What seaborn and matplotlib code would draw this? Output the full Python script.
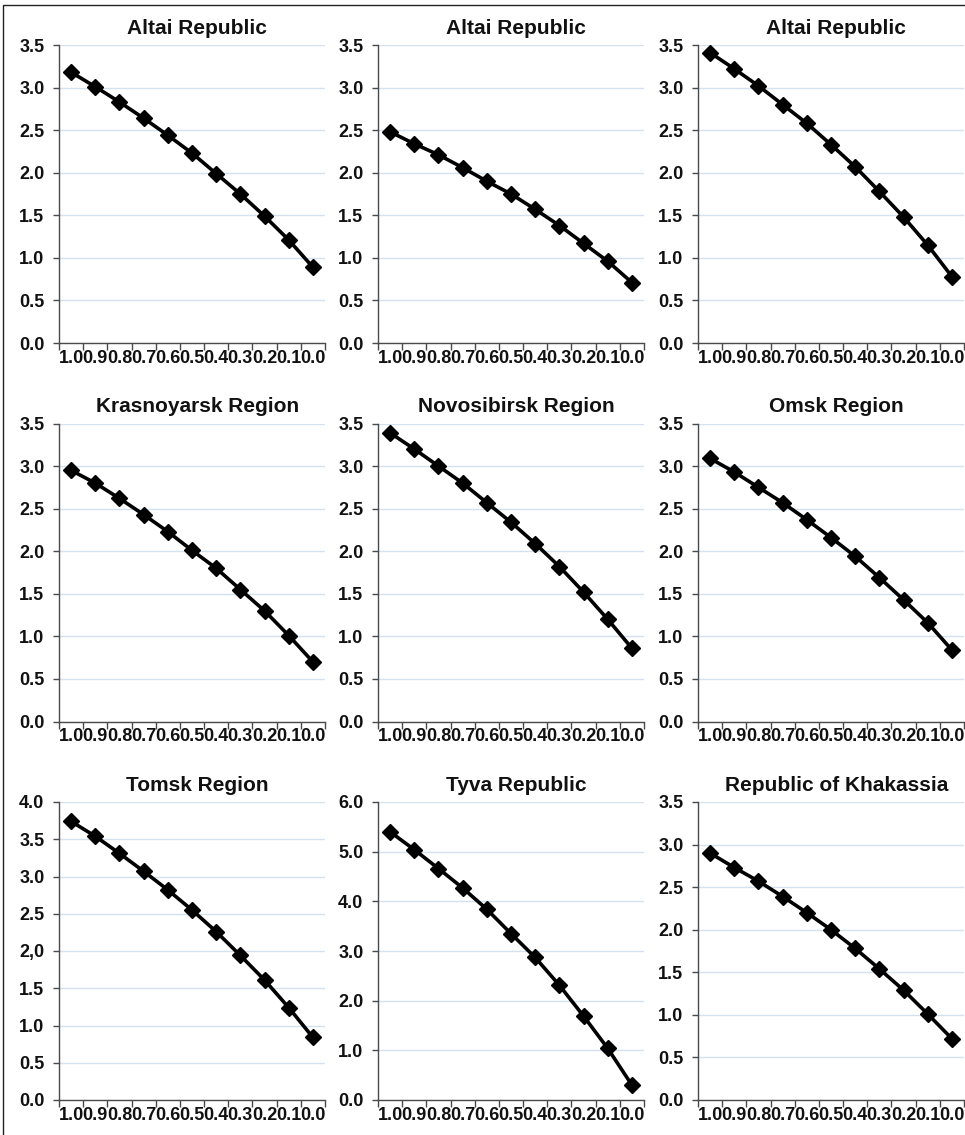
import matplotlib
matplotlib.use("Agg")
import matplotlib.pyplot as plt
from matplotlib.patches import Rectangle
from matplotlib.ticker import FixedLocator, NullFormatter
import numpy as np
import pandas as pd
import seaborn as sns

# Share of the parameter, shown from 1.0 down to 0.0
x_labels = ["1.0", "0.9", "0.8", "0.7", "0.6", "0.5", "0.4", "0.3", "0.2", "0.1", "0.0"]

titles = [
    "Altai Republic", "Altai Republic", "Altai Republic",
    "Krasnoyarsk Region", "Novosibirsk Region", "Omsk Region",
    "Tomsk Region", "Tyva Republic", "Republic of Khakassia",
]

altai_a = [3.18, 3.01, 2.83, 2.64, 2.44, 2.23, 1.99, 1.75, 1.49, 1.21, 0.89]
altai_b = [2.48, 2.34, 2.21, 2.06, 1.90, 1.75, 1.57, 1.38, 1.17, 0.96, 0.71]
altai_c = [3.41, 3.22, 3.02, 2.80, 2.58, 2.33, 2.07, 1.78, 1.48, 1.15, 0.78]
krasnoyarsk = [2.95, 2.80, 2.62, 2.43, 2.23, 2.01, 1.80, 1.55, 1.30, 1.01, 0.70]
novosibirsk = [3.39, 3.20, 3.00, 2.80, 2.57, 2.34, 2.09, 1.82, 1.52, 1.20, 0.86]
omsk = [3.09, 2.93, 2.75, 2.57, 2.37, 2.16, 1.94, 1.69, 1.43, 1.16, 0.84]
tomsk = [3.74, 3.54, 3.31, 3.07, 2.82, 2.55, 2.26, 1.94, 1.61, 1.24, 0.84]
tyva = [5.40, 5.04, 4.66, 4.27, 3.84, 3.35, 2.87, 2.31, 1.69, 1.04, 0.30]
khakassia = [2.90, 2.73, 2.57, 2.39, 2.20, 2.00, 1.78, 1.54, 1.29, 1.01, 0.72]

series = [altai_a, altai_b, altai_c, krasnoyarsk, novosibirsk, omsk, tomsk, tyva, khakassia]

ticks_35 = [0.0, 0.5, 1.0, 1.5, 2.0, 2.5, 3.0, 3.5]
labels_35 = ["0.0", "0.5", "1.0", "1.5", "2.0", "2.5", "3.0", "3.5"]
ticks_40 = [0.0, 0.5, 1.0, 1.5, 2.0, 2.5, 3.0, 3.5, 4.0]
labels_40 = ["0.0", "0.5", "1.0", "1.5", "2,0", "2.5", "3.0", "3.5", "4.0"]
ticks_60 = [0.0, 1.0, 2.0, 3.0, 4.0, 5.0, 6.0]
labels_60 = ["0.0", "1.0", "2.0", "3.0", "4.0", "5.0", "6.0"]

y_ticks = [ticks_35] * 6 + [ticks_40, ticks_60, ticks_35]
y_ticklabels = [labels_35] * 6 + [labels_40, labels_60, labels_35]

sns.set_style("white")
plt.rcParams["font.family"] = ["Liberation Sans", "DejaVu Sans"]
plt.rcParams["font.weight"] = "bold"

W, H = 965, 1135
fig = plt.figure(figsize=(W / 100, H / 100), dpi=100)

col_left = [59, 378, 698]
row_top = [45, 423.5, 802]
ax_w, ax_h = 266, 298

spine_col = "#4a4a4a"
grid_col = "#d6e1ef"

for i, (title, vals) in enumerate(zip(titles, series)):
    r, c = divmod(i, 3)
    rect = [col_left[c] / W, 1 - (row_top[r] + ax_h) / H, ax_w / W, ax_h / H]
    ax = fig.add_axes(rect)
    df = pd.DataFrame({"pos": np.arange(len(x_labels)), "value": vals})
    sns.lineplot(data=df, x="pos", y="value", ax=ax, color="black",
                 linewidth=2.6, marker="D", markersize=8.6,
                 markeredgecolor="black", markeredgewidth=1.0)

    ax.set_xlim(-0.5, len(x_labels) - 0.5)
    ax.set_ylim(0, y_ticks[i][-1])
    ax.set_xticks(np.arange(len(x_labels)))
    ax.set_xticklabels(x_labels)
    ax.xaxis.set_minor_locator(FixedLocator(np.arange(-0.5, len(x_labels), 1.0)))
    ax.xaxis.set_minor_formatter(NullFormatter())
    ax.set_yticks(y_ticks[i])
    ax.set_yticklabels(y_ticklabels[i])

    ax.tick_params(axis="x", which="major", length=0, pad=5, labelsize=13)
    ax.tick_params(axis="x", which="minor", length=5, width=1, color=spine_col,
                   direction="out", bottom=True)
    ax.tick_params(axis="y", which="major", length=4.5, width=1, color=spine_col,
                   direction="out", left=True, pad=6, labelsize=13)
    for lab in ax.get_xticklabels() + ax.get_yticklabels():
        lab.set_fontweight("bold")
        lab.set_color("#111111")

    ax.grid(axis="y", color=grid_col, linewidth=1.0)
    ax.grid(axis="x", visible=False)
    ax.set_axisbelow(True)
    for side in ("top", "right"):
        ax.spines[side].set_visible(False)
    for side in ("left", "bottom"):
        ax.spines[side].set_color(spine_col)
        ax.spines[side].set_linewidth(1.0)

    ax.set_xlabel("")
    ax.set_ylabel("")
    ax.set_title(title, fontsize=15, fontweight="bold", color="#111111",
                 x=0.52, pad=8)

# Outer frame around the panel block
fig.patches.append(Rectangle((3 / W, -0.1), 1.2, (H - 5) / H + 0.1,
                             transform=fig.transFigure, fill=False,
                             edgecolor="#222222", linewidth=1.0))

fig.savefig("out.png", dpi=100)
